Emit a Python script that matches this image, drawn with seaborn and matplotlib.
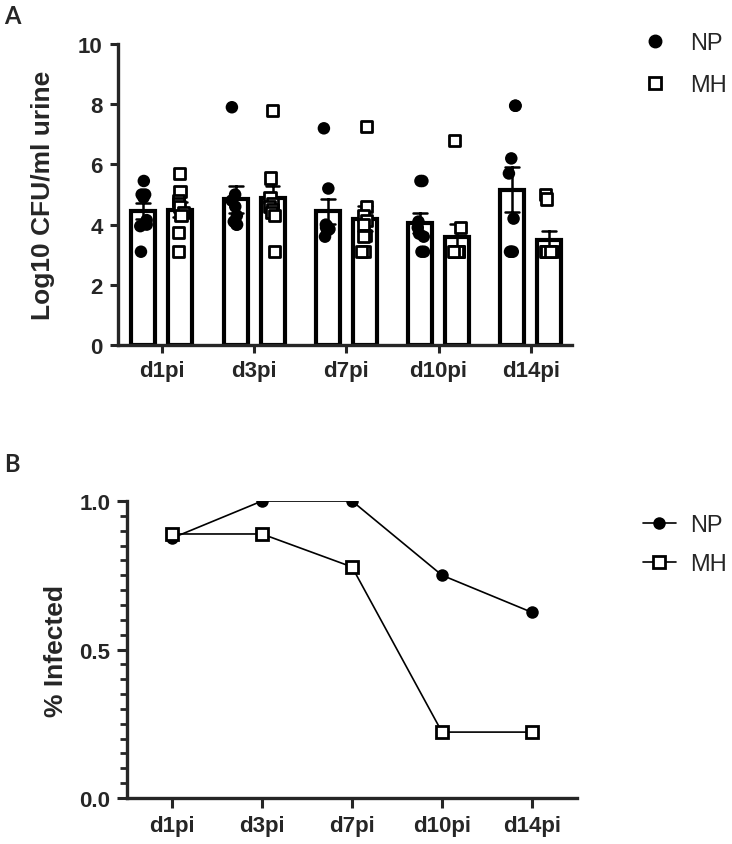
import numpy as np
import pandas as pd
import matplotlib
matplotlib.use('Agg')
import matplotlib.pyplot as plt
from matplotlib.lines import Line2D
from matplotlib.ticker import MultipleLocator, FormatStrFormatter
import seaborn as sns

np.random.seed(3)  # fixed strip jitter

days = ['d1pi', 'd3pi', 'd7pi', 'd10pi', 'd14pi']
groups = ['NP', 'MH']

# log10 CFU/ml urine per mouse, one list per day (3.1 = detection limit)
np_cfu = [
    [5.45, 5.0, 5.0, 4.9, 4.15, 4.0, 3.95, 3.1],
    [7.9, 5.0, 4.8, 4.6, 4.3, 4.1, 4.0, 4.0],
    [7.2, 5.2, 4.0, 3.95, 3.9, 3.85, 3.8, 3.6],
    [5.45, 5.45, 4.1, 3.9, 3.7, 3.6, 3.1, 3.1],
    [7.95, 7.95, 6.2, 5.7, 4.2, 3.1, 3.1, 3.1],
]
mh_cfu = [
    [5.7, 5.1, 4.8, 4.7, 4.6, 4.4, 4.3, 3.75, 3.1],
    [7.8, 5.55, 4.9, 4.7, 4.6, 4.5, 4.4, 4.3, 3.1],
    [7.25, 4.6, 4.3, 4.15, 4.0, 3.65, 3.6, 3.1, 3.1],
    [6.8, 3.9, 3.1, 3.1, 3.1, 3.1, 3.1, 3.1, 3.1],
    [5.0, 4.85, 3.1, 3.1, 3.1, 3.1, 3.1, 3.1, 3.1],
]

# fraction of infected mice
np_infected = [0.875, 1.0, 1.0, 0.75, 0.625]
mh_infected = [0.889, 0.889, 0.778, 0.222, 0.222]

rows = []
for g, vals in [('NP', np_cfu), ('MH', mh_cfu)]:
    for d, v in zip(days, vals):
        for x in v:
            rows.append({'day': d, 'group': g, 'cfu': x})
cfu = pd.DataFrame(rows)

pct = pd.DataFrame({
    'day': days * 2,
    'group': ['NP'] * len(days) + ['MH'] * len(days),
    'infected': np_infected + mh_infected,
})

sns.set_style('ticks')
plt.rcParams['font.family'] = ['Liberation Sans', 'DejaVu Sans']
plt.rcParams['axes.linewidth'] = 2.4

fig = plt.figure(figsize=(7.32, 8.45), dpi=100)

# ---------- panel A ----------
axA = fig.add_axes([0.161, 0.5905, 0.62, 0.3562])
sns.barplot(data=cfu, x='day', y='cfu', hue='group', order=days, hue_order=groups,
            palette={'NP': 'white', 'MH': 'white'}, saturation=1,
            edgecolor='black', linewidth=3.0, width=0.8, gap=0.35,
            errorbar='se', capsize=0.3, err_kws={'color': 'black', 'linewidth': 1.8},
            legend=False, ax=axA)
sns.stripplot(data=cfu[cfu.group == 'NP'], x='day', y='cfu', hue='group',
              order=days, hue_order=groups, dodge=True, jitter=0.09,
              palette={'NP': 'black', 'MH': 'black'}, marker='o', size=9,
              linewidth=0, legend=False, ax=axA)
sns.stripplot(data=cfu[cfu.group == 'MH'], x='day', y='cfu', hue='group',
              order=days, hue_order=groups, dodge=True, jitter=0.09,
              palette={'NP': 'white', 'MH': 'white'}, marker='s', size=8,
              edgecolor='black', linewidth=2.0, legend=False, ax=axA)

axA.set_xlim(-0.477, 4.444)
axA.set_ylim(0, 10)
axA.set_yticks([0, 2, 4, 6, 8, 10])
axA.set_xlabel('')
axA.set_ylabel('Log10 CFU/ml urine', fontsize=19, fontweight='bold')
axA.yaxis.set_label_coords(-0.139, 0.5)
sns.despine(ax=axA)
axA.tick_params(axis='both', direction='out', length=6, width=2.2, labelsize=16, pad=5)
for lab in axA.get_xticklabels() + axA.get_yticklabels():
    lab.set_fontweight('bold')

hA = [Line2D([], [], ls='none', marker='o', ms=9, color='black'),
      Line2D([], [], ls='none', marker='s', ms=8, mfc='white', mec='black', mew=2)]
axA.legend(hA, groups, loc='upper left', bbox_to_anchor=(0.878, 0.961),
           bbox_transform=fig.transFigure, frameon=False, fontsize=17,
           handlelength=1.0, handletextpad=1.0, labelspacing=0.85,
           borderpad=0, borderaxespad=0)

# ---------- panel B ----------
axB = fig.add_axes([0.1735, 0.0544, 0.6148, 0.3515])
sns.lineplot(data=pct, x='day', y='infected', hue='group', style='group',
             hue_order=groups, style_order=groups,
             palette={'NP': 'black', 'MH': 'black'},
             markers={'NP': 'o', 'MH': 's'}, dashes=False,
             linewidth=1.2, markersize=9, legend=False, ax=axB)
for ln in axB.lines:
    ln.set_markeredgecolor('black')
    if ln.get_marker() == 's':
        ln.set_markerfacecolor('white')
        ln.set_markeredgewidth(2.0)
        ln.set_markersize(8)
    else:
        ln.set_markeredgewidth(0)

axB.set_xlim(-0.5, 4.5)
axB.set_ylim(0, 1.0)
axB.set_yticks([0, 0.5, 1.0])
axB.yaxis.set_major_formatter(FormatStrFormatter('%.1f'))
axB.yaxis.set_minor_locator(MultipleLocator(0.05))
axB.set_xlabel('')
axB.set_ylabel('% Infected', fontsize=19, fontweight='bold')
axB.yaxis.set_label_coords(-0.131, 0.5)
sns.despine(ax=axB)
axB.tick_params(axis='both', which='major', direction='out', length=7, width=2.2, labelsize=16, pad=5)
axB.tick_params(axis='y', which='minor', direction='out', length=5, width=2.0)
for lab in axB.get_xticklabels() + axB.get_yticklabels():
    lab.set_fontweight('bold')

hB = [Line2D([], [], lw=1.2, marker='o', ms=9, mew=0, color='black'),
      Line2D([], [], lw=1.2, marker='s', ms=8, mfc='white', mec='black', mew=2, color='black')]
axB.legend(hB, groups, loc='upper left', bbox_to_anchor=(0.878, 0.39),
           bbox_transform=fig.transFigure, frameon=False, fontsize=17,
           handlelength=1.4, handletextpad=0.6, labelspacing=0.7,
           borderpad=0, borderaxespad=0)

# panel letters
fig.text(0.006, 0.994, 'A', fontsize=17, fontweight='bold', va='top', family=['Lato', 'DejaVu Sans'])
fig.text(0.006, 0.464, 'B', fontsize=17, fontweight='bold', va='top', family=['Lato', 'DejaVu Sans'])

fig.savefig('out.png', dpi=100)
